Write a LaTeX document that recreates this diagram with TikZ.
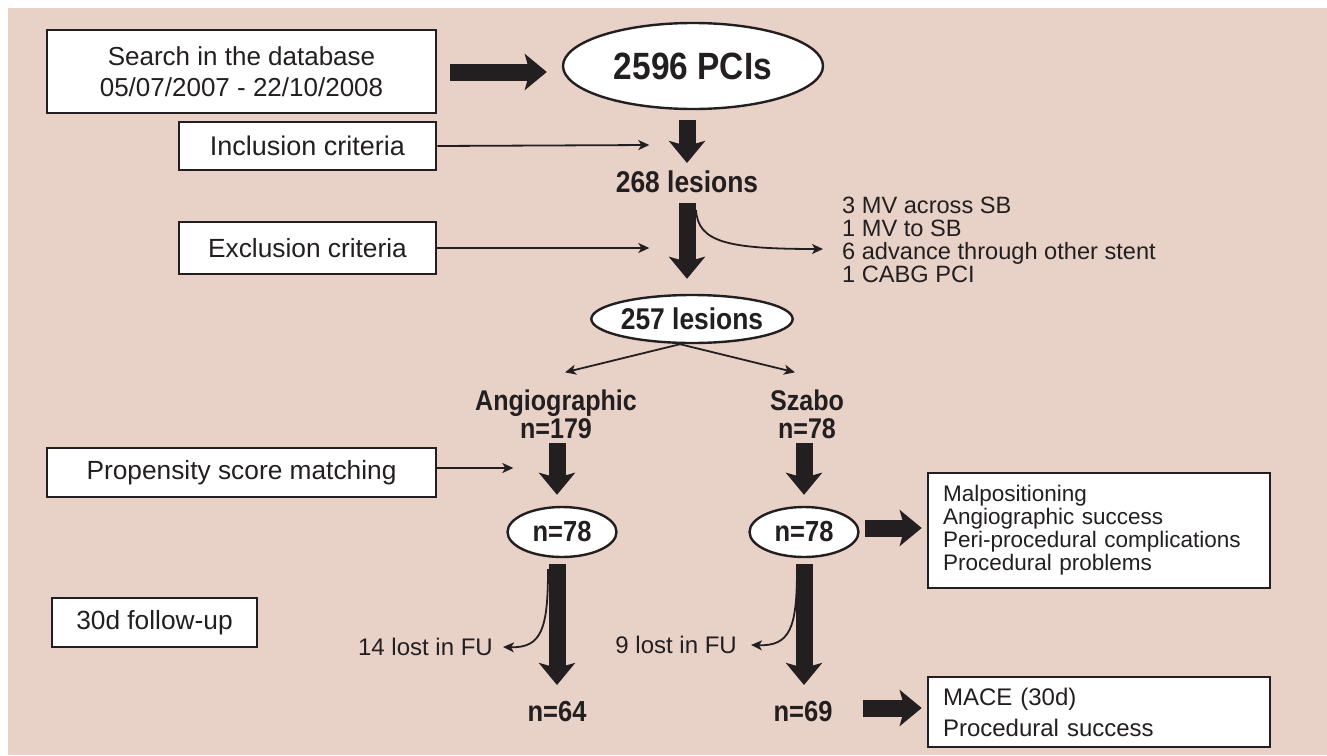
\documentclass[tikz,border=0pt]{standalone}
\usepackage{fontspec}
\setmainfont{Liberation Sans}
\newfontfamily\bcond[FakeStretch=0.88]{Liberation Sans}
\usetikzlibrary{shapes.geometric,arrows.meta,calc}
\definecolor{bgc}{HTML}{E8D1C7}
\definecolor{ink}{HTML}{231F20}
\begin{document}
\begin{tikzpicture}[x=1pt,y=-1pt,
 box/.style={draw=ink, line width=2.6pt, fill=white, inner sep=0pt, text=ink, font=\fontsize{26.3}{26}\selectfont},
 ell/.style={ellipse, draw=ink, line width=2.4pt, fill=white, inner sep=0pt, text=ink, font=\bcond\bfseries\fontsize{29}{29}\selectfont},
 lbl/.style={inner sep=0pt, text=ink, font=\bcond\bfseries\fontsize{28.5}{28}\selectfont, align=center},
 note/.style={inner sep=0pt, text=ink, font=\fontsize{23.6}{23}\selectfont, align=left},
 big/.style={draw=ink, line width=17pt, -{Stealth[length=22pt,width=36pt,inset=5pt]}},
 thin/.style={draw=ink, line width=1.8pt, -{Stealth[length=11pt,width=10pt,inset=3pt]}},
]
\fill[bgc] (8,8) rectangle (1327,755);
\useasboundingbox (0,0) rectangle (1327,755);

% left boxes
\node[box, minimum width=389pt, minimum height=83pt, align=center, font=\fontsize{26}{31}\selectfont] (search) at (241.5,71.5) {Search in the database\\05/07/2007 - 22/10/2008};
\node[box, minimum width=257pt, minimum height=48pt, font=\fontsize{27}{27}\selectfont] (incl) at (307.5,146) {Inclusion criteria};
\node[box, minimum width=257pt, minimum height=52pt] (excl) at (307.5,248) {Exclusion criteria};
\node[box, minimum width=389pt, minimum height=49pt] (prop) at (241.5,472.5) {Propensity score matching};
\node[box, minimum width=205pt, minimum height=49pt] (fu) at (154.5,622.5) {30d follow-up};

% flow nodes
\node[ell, minimum width=260pt, minimum height=86pt, font=\bcond\bfseries\fontsize{38}{38}\selectfont] (pcis) at (693,66) {2596 PCIs};
\node[lbl, font=\bcond\bfseries\fontsize{30}{30}\selectfont] (l268) at (687,182) {268 lesions};
\node[ell, minimum width=199pt, minimum height=48pt, font=\bcond\bfseries\fontsize{30}{30}\selectfont] (l257) at (692,319) {257 lesions};
\node[lbl] (ang) at (556,414) {Angiographic\\n=179};
\node[lbl] (sz) at (807,414) {Szabo\\n=78};
\node[ell, minimum width=109pt, minimum height=50pt] (m78L) at (562,532) {n=78};
\node[ell, minimum width=109pt, minimum height=50pt] (m78R) at (804,532) {n=78};
\node[lbl, font=\bcond\bfseries\fontsize{29}{29}\selectfont] (n64) at (557,712) {n=64};
\node[lbl, font=\bcond\bfseries\fontsize{29}{29}\selectfont] (n69) at (803,712) {n=69};

% side notes
\node[note, anchor=west] (exlist) at (842,240) {3 MV across SB\\1 MV to SB\\6 advance through other stent\\1 CABG PCI};
\node[note, anchor=east, font=\fontsize{24}{24}\selectfont] (lost14) at (493,647) {14 lost in FU};
\node[note, anchor=east, font=\fontsize{24}{24}\selectfont] (lost9) at (737,645) {9 lost in FU};

% outcome boxes
\node[box, minimum width=342pt, minimum height=115pt, text width=312pt, align=left, font=\fontsize{22.5}{23}\selectfont] (mal) at (1099,530.5) {Malpositioning\\Angiographic success\\Peri-procedural complications\\Procedural problems};
\node[box, minimum width=342pt, minimum height=70pt, text width=312pt, align=left, font=\fontsize{24}{31}\selectfont] (mace) at (1099,712) {MACE (30d)\\Procedural success};

% thin connectors
\draw[thin] (incl.east) -- ($(incl.east)+(212,-1)$);
\draw[thin] (excl.east) -- ($(excl.east)+(212,0)$);
\draw[thin] ($(prop.east)+(0,-4.5)$) -- ($(prop.east)+(76,-4.5)$);
\draw[thin] ($(l257.south)+(-12,0)$) -- ($(ang.north)+(9,-17)$);
\draw[thin] ($(l257.south)+(-12,0)$) -- ($(sz.north)+(-12,-17)$);
\draw[thin] ($(l268.center)+(9,28)$) .. controls ($(l268.center)+(11,60)$) and ($(l268.center)+(40,67)$) .. ($(exlist.west)+(-19,9)$);
\draw[thin] ($(m78L.south)+(-14,11)$) .. controls ($(m78L.south)+(-14,70)$) and ($(m78L.south)+(-20,90)$) .. ($(lost14.east)+(10,0)$);
\draw[thin] ($(m78R.south)+(-7,11)$) .. controls ($(m78R.south)+(-7,70)$) and ($(m78R.south)+(-14,88)$) .. ($(lost9.east)+(14,0)$);

% thick connectors
\draw[big] ($(search.east)+(13,0.5)$) -- ($(search.east -| pcis.west)+(-15,0.5)$);
\draw[big] ($(l268.center)+(0,-62)$) -- ($(l268.center)+(0,-19)$);
\draw[big] ($(l268.center)+(0,21)$) -- ($(l257.north)+(-5,-15)$);
\draw[big] ($(ang.center)+(1,29)$) -- ($(m78L.north)+(-5,-11)$);
\draw[big] ($(sz.center)+(-3,29)$) -- ($(m78R.north)+(0,-11)$);
\draw[big] ($(m78L.south)+(-5,6)$) -- ($(n64.center)+(0,-27)$);
\draw[big] ($(m78R.south)+(0,6)$) -- ($(n69.center)+(1,-27)$);
\draw[big] ($(m78R.east)+(5,-4)$) -- ($(mal.west |- m78R.east)+(-5,-4)$);
\draw[big] ($(mace.west)+(-64,-4)$) -- ($(mace.west)+(-5,-4)$);
\end{tikzpicture}
\end{document}
